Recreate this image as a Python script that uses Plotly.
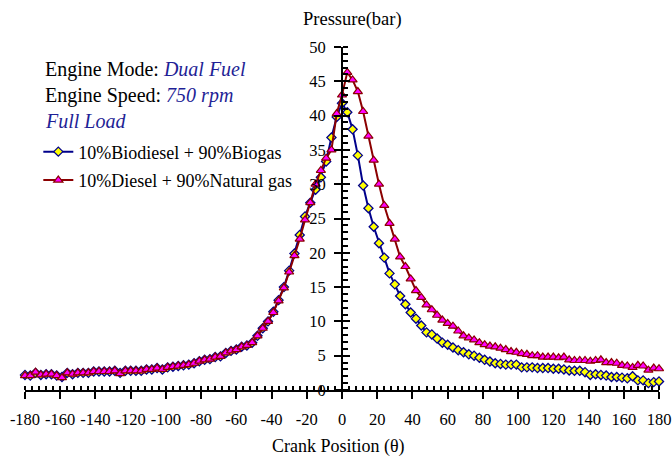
import plotly.graph_objects as go

crank = list(range(-180, 181, 3))

biogas = [
    2.2, 2.1, 2.5, 2.2, 2.3, 2.3, 2.1, 1.9, 2.5, 2.3,
    2.5, 2.5, 2.5, 2.7, 2.7, 2.7, 2.7, 2.8, 2.5, 2.8,
    2.8, 2.8, 2.8, 3.0, 3.0, 3.2, 3.0, 3.3, 3.4, 3.5,
    3.6, 3.7, 3.9, 4.2, 4.4, 4.5, 4.8, 4.9, 5.4, 5.7,
    5.9, 6.3, 6.5, 6.9, 7.9, 9.0, 10.0, 11.4, 13.1, 15.0,
    17.4, 19.9, 22.6, 25.3, 27.3, 29.2, 31.0, 33.3, 36.8, 39.8,
    41.8, 40.5, 38.0, 34.2, 29.8, 26.5, 23.8, 21.4, 19.3, 17.0,
    15.4, 13.7, 12.5, 11.3, 10.4, 9.4, 8.4, 8.1, 7.5, 6.9,
    6.6, 6.2, 5.8, 5.5, 5.2, 5.0, 4.7, 4.4, 4.15, 3.9,
    3.8, 3.7, 3.7, 3.7, 3.3, 3.3, 3.3, 3.2, 3.2, 3.2,
    3.1, 3.1, 3.0, 2.85, 2.8, 2.8, 2.6, 2.2, 2.3, 2.2,
    2.1, 1.9, 1.9, 1.8, 1.7, 2.0, 1.4, 1.4, 1.0, 1.15,
    1.25,
]

natgas = [
    2.1, 2.1, 2.6, 2.2, 2.3, 2.3, 2.1, 1.8, 2.5, 2.3,
    2.5, 2.5, 2.5, 2.7, 2.7, 2.7, 2.7, 2.8, 2.4, 2.8,
    2.8, 2.8, 2.8, 3.0, 3.0, 3.2, 3.0, 3.3, 3.4, 3.5,
    3.6, 3.7, 3.9, 4.2, 4.4, 4.5, 4.8, 4.9, 5.4, 5.7,
    5.9, 6.3, 6.5, 6.9, 7.9, 9.0, 10.0, 11.3, 13.0, 14.9,
    17.2, 19.6, 22.0, 24.8, 27.3, 30.0, 32.0, 33.8, 35.0, 40.3,
    43.0, 46.3, 45.2, 43.5, 40.6, 37.0, 33.5, 30.0, 26.9, 24.3,
    22.0, 19.4, 18.0, 16.2, 14.5, 13.5, 12.4, 11.7, 10.9, 10.2,
    9.7, 9.3, 8.6, 7.9, 7.6, 7.3, 6.9, 6.6, 6.4, 6.3,
    6.1, 5.9, 5.6, 5.5, 5.3, 5.2, 5.0, 5.0, 4.8, 4.8,
    4.8, 4.7, 4.8, 4.4, 4.3, 4.3, 4.3, 4.2, 4.3, 4.4,
    4.0, 4.0, 3.9, 3.6, 3.5, 3.3, 3.6, 3.5, 2.9, 3.2,
    3.1,
]

x_ticks = list(range(-180, 181, 20))
x_labels = ["-180", "-160", "-140", "-120", "-100", "-80", "-60", "-40", "-20",
            "0", "20", "40", "60", "80", "100", "120", "140", "160", "180"]
y_ticks = list(range(0, 51, 5))

SERIF = "Liberation Serif, Times New Roman, serif"
NAVY = "#00008b"
DARKRED = "#8b0000"
TXTBLUE = "#1f1f96"

fig = go.Figure()
fig.add_trace(go.Scatter(
    x=crank, y=biogas, mode="lines+markers", name="10%Biodiesel + 90%Biogas",
    line=dict(color=NAVY, width=2),
    marker=dict(symbol="diamond", size=7, color="#ffff00", line=dict(color=NAVY, width=1.3)),
    cliponaxis=False, legendgroup="a",
))
fig.add_trace(go.Scatter(
    x=crank, y=natgas, mode="lines+markers", name="10%Diesel + 90%Natural gas",
    line=dict(color=DARKRED, width=2),
    marker=dict(symbol="triangle-up", size=8, color="#ff00ff", line=dict(color=DARKRED, width=1.2)),
    cliponaxis=False, legendgroup="b",
))
fig.add_trace(go.Scatter(x=[crank[0]], y=[biogas[0]], xaxis="x2", yaxis="y2",
                         mode="markers", marker=dict(opacity=0), showlegend=False, hoverinfo="skip"))

fig.update_layout(
    width=672, height=459,
    margin=dict(l=25, r=13, t=47, b=69, autoexpand=False),
    paper_bgcolor="white", plot_bgcolor="white",
    font=dict(family=SERIF, size=16, color="black"),
    showlegend=True,
    legend=dict(x=0.021, y=0.748, xanchor="left", yanchor="top",
                font=dict(family=SERIF, size=18, color="black"),
                bgcolor="rgba(0,0,0,0)", tracegroupgap=2, itemwidth=30),
    xaxis=dict(range=[-180, 180], tickmode="array", tickvals=x_ticks, ticktext=x_labels,
               tickangle=0, automargin=False, ticklabeloverflow="allow",
               ticks="outside", ticklen=7, tickwidth=2, tickcolor="black",
               showline=True, linecolor="black", linewidth=2,
               showgrid=False, zeroline=False,
               minor=dict(dtick=4, tick0=0, ticks="inside", ticklen=4, tickwidth=1.5, tickcolor="black", showgrid=False),
               tickfont=dict(family=SERIF, size=16.5), ticklabelstandoff=6),
    yaxis=dict(range=[0, 50], tickmode="array", tickvals=y_ticks,
               anchor="free", position=0.5, automargin=False,
               ticks="outside", ticklen=7, tickwidth=2, tickcolor="black",
               showline=True, linecolor="black", linewidth=2,
               showgrid=False, zeroline=False,
               minor=dict(dtick=1, tick0=0, ticks="inside", ticklen=5, tickwidth=1.5, tickcolor="black", showgrid=False),
               tickfont=dict(family=SERIF, size=16.5), ticklabelstandoff=5),
    xaxis2=dict(range=[-180, 180], overlaying="x", anchor="y", tickmode="array", tickvals=x_ticks,
                ticks="inside", ticklen=4, tickwidth=2, tickcolor="black", showticklabels=False,
                showline=False, showgrid=False, zeroline=False, side="bottom", automargin=False),
    yaxis2=dict(range=[0, 50], overlaying="y", anchor="free", position=0.5, tickmode="array", tickvals=y_ticks,
                ticks="inside", ticklen=7, tickwidth=2, tickcolor="black", showticklabels=False,
                showline=False, showgrid=False, zeroline=False, side="left", automargin=False),
)

ann = [
    dict(text="Engine Mode: <i><span style='color:%s'>Dual Fuel</span></i>" % TXTBLUE, x=0.028, y=0.933),
    dict(text="Engine Speed: <i><span style='color:%s'>750 rpm</span></i>" % TXTBLUE, x=0.028, y=0.858),
    dict(text="<i><span style='color:%s'>Full Load</span></i>" % TXTBLUE, x=0.028, y=0.783),
]
for a in ann:
    fig.add_annotation(xref="paper", yref="paper", xanchor="left", yanchor="middle",
                       showarrow=False, font=dict(family=SERIF, size=20, color="black"), **a)

fig.add_annotation(xref="paper", yref="paper", x=0.517, y=1.079, xanchor="center", yanchor="middle",
                   text="Pressure(bar)", showarrow=False, font=dict(family=SERIF, size=18.5, color="black"))
fig.add_annotation(xref="paper", yref="paper", x=0.495, y=-0.165, xanchor="center", yanchor="middle",
                   text="Crank Position (θ)", showarrow=False, font=dict(family=SERIF, size=18, color="black"))

fig.write_html("out.html", config={"displayModeBar": False},
               post_script="document.body.style.margin='0';document.body.style.overflow='hidden';")
